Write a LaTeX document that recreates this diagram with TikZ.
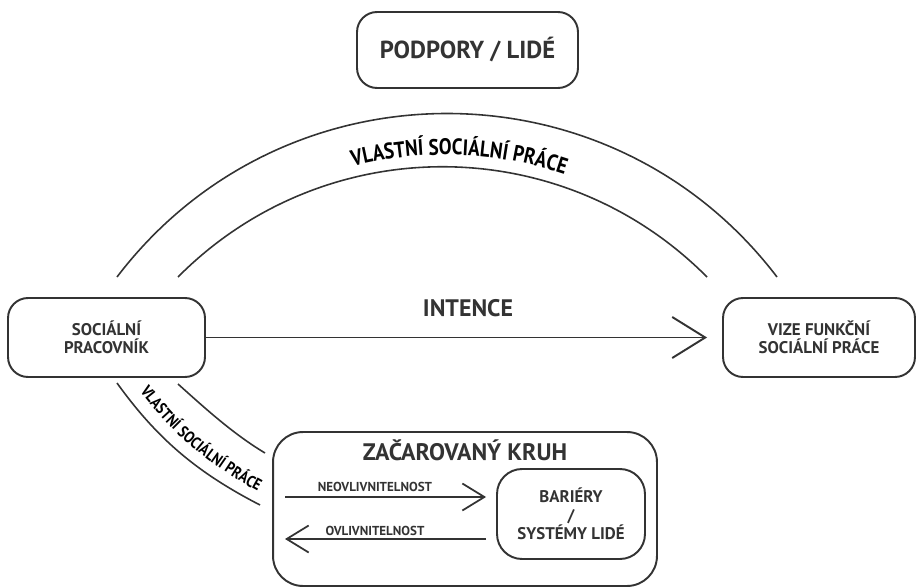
\documentclass[tikz,border=0pt]{standalone}
\usepackage{fontspec}
\setmainfont{PT Sans}
\newfontfamily\narrowfont{PT Sans}[FakeStretch=0.85]
\usepackage{tikz}
\usetikzlibrary{arrows.meta,decorations.text,positioning}
\definecolor{ink}{HTML}{333333}

\begin{document}
\begin{tikzpicture}[x=0.02cm,y=-0.02cm,
  box/.style={draw=ink,line width=1.1pt,rounded corners=0.4cm,align=center,text=ink,inner sep=0pt,
    font=\bfseries\fontsize{9.6}{10.5}\selectfont},
  label/.style={text=ink,inner sep=0pt,anchor=base},
  bow/.style={draw=ink,line width=0.9pt},
  bigarrow/.style={draw=ink,line width=1.1pt,-{Straight Barb[length=0.66cm,width=0.82cm]}},
  smallarrow/.style={draw=ink,line width=1pt,-{Straight Barb[length=0.44cm,width=0.54cm]}}]
\useasboundingbox (0,0) rectangle (916,588);
% boxes
\node[box,minimum width=4.42cm,minimum height=1.52cm,font=\bfseries\fontsize{14}{16}\selectfont] (podpory) at (467.5,50) {PODPORY / LIDÉ};
\node[box,minimum width=3.94cm,minimum height=1.58cm] (pracovnik) at (106.5,337.5) {SOCIÁLNÍ\\PRACOVNÍK};
\node[box,minimum width=3.84cm,minimum height=1.58cm] (vize) at (819,337.5) {VIZE FUNKČNÍ\\SOCIÁLNÍ PRÁCE};
\node[box,minimum width=7.68cm,minimum height=3.08cm,rounded corners=0.6cm] (kruh) at (465,509) {};
\node[box,minimum width=2.96cm,minimum height=1.8cm,rounded corners=0.5cm] (bariery) at (571,514) {BARIÉRY\\/\\SYSTÉMY LIDÉ};
\node[label,font=\bfseries\fontsize{13.6}{15}\selectfont] (kruhtitle) at (465,460) {ZAČAROVANÝ KRUH};

% intence
\draw[bigarrow,shorten >=0.3cm] (pracovnik) -- (vize);
\node[label,font=\bfseries\fontsize{13.6}{15}\selectfont] (intence) at (468,316) {INTENCE};

% arrows inside the circle
\coordinate (neoL) at (285,497);
\coordinate (ovlL) at (285,539);
\draw[smallarrow,shorten >=0.2cm] (neoL) -- (neoL -| bariery.west);
\draw[smallarrow,shorten <=0.2cm] (ovlL -| bariery.west) -- (ovlL);
\node[label,font=\bfseries\fontsize{7.4}{9}\selectfont] (neo) at (375,491) {NEOVLIVNITELNOST};
\node[label,font=\bfseries\fontsize{7.4}{9}\selectfont] (ovl) at (375,535) {OVLIVNITELNOST};

% upper bows
\draw[bow] (117,277) .. controls (283,59) and (611,59) .. (777,277);
\draw[bow] (178,277) .. controls (324,130) and (561,130) .. (707,277);
\path[color=ink,decorate,decoration={text along path,text align=center,
  text={|\narrowfont\bfseries\fontsize{12.8}{14}\selectfont|VLASTNÍ SOCIÁLNÍ PRÁCE}}]
  (217,233) .. controls (359.6,122.4) and (561.3,129.7) .. (695,251);

% lower bows
\draw[bow] (117,383) .. controls (158,440) and (198,473) .. (260,505);
\draw[bow] (178,384) .. controls (205.5,408.7) and (233.3,434) .. (265,453);
\path[color=ink,decorate,decoration={text along path,text align=center,
  text={|\narrowfont\bfseries\fontsize{9.3}{11}\selectfont|VLASTNÍ SOCIÁLNÍ PRÁCE}}]
  (133,382) .. controls (171,435) and (211,467) .. (268,497);
\end{tikzpicture}
\end{document}
